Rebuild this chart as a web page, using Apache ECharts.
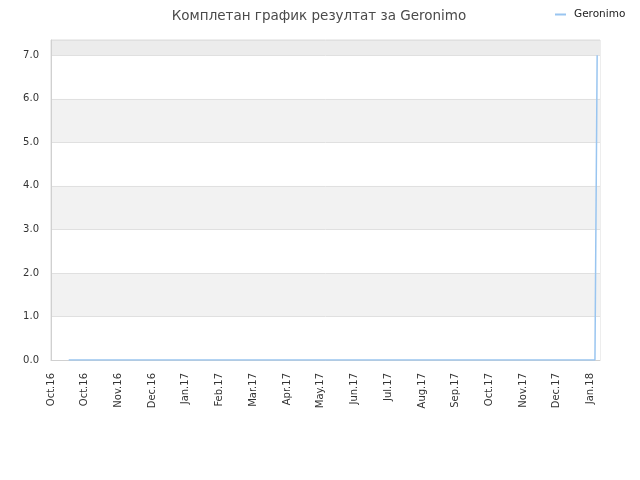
<!DOCTYPE html>
<html>
<head>
<meta charset="utf-8">
<script src="https://cdn.jsdelivr.net/npm/echarts@6/dist/echarts.min.js"></script>
<style>
  html, body { margin: 0; padding: 0; background: #fff; }
  #chart { width: 640px; height: 480px; }
</style>
</head>
<body>
<div id="chart"></div>
<script>
// axis starts 1 Oct 2016, one tick every ~month
var startDate = Date.UTC(2016, 9, 1);
var monthDays = 30.44;
var tickLabels = ['Oct.16', 'Oct.16', 'Nov.16', 'Dec.16', 'Jan.17', 'Feb.17', 'Mar.17', 'Apr.17',
    'May.17', 'Jun.17', 'Jul.17', 'Aug.17', 'Sep.17', 'Oct.17', 'Nov.17', 'Dec.17', 'Jan.18'];
var pointDates = ['2016-10-17', '2018-02-04', '2018-02-05', '2018-02-06'];
var pointValues = [0, 0, 3.5, 7];

function dayOffset(s) {
    var p = s.split('-');
    return (Date.UTC(+p[0], +p[1] - 1, +p[2]) - startDate) / 86400000;
}

var lineData = pointDates.map(function (d, i) {
    return [dayOffset(d), pointValues[i]];
});

var myChart = echarts.init(document.getElementById('chart'));

var option = {
    animation: false,
    textStyle: { fontFamily: 'DejaVu Sans' },
    title: {
        text: 'Комплетан график резултат за Geronimo',
        left: 314,
        textAlign: 'center',
        top: 4,
        textStyle: { fontSize: 13.5, fontWeight: 'normal', color: '#4a4a4a' }
    },
    legend: {
        left: 550,
        top: 4,
        icon: 'rect',
        itemWidth: 11,
        itemHeight: 2,
        itemGap: 6,
        textStyle: { fontSize: 10.5, color: '#222', padding: [0, 0, 0, 3] },
        data: ['Geronimo']
    },
    grid: {
        left: 51, right: 40, top: 40, bottom: 120,
        show: true, borderColor: '#dcdcdc', borderWidth: 1,
        containLabel: false
    },
    xAxis: {
        type: 'value',
        min: 0,
        max: 16.28 * monthDays,
        interval: monthDays,
        axisLine: { show: true, lineStyle: { color: '#d0d0d0' } },
        axisTick: { show: false },
        splitLine: { show: false },
        axisLabel: {
            rotate: 90,
            margin: 13,
            fontSize: 10,
            color: '#333',
            showMaxLabel: false,
            formatter: function (v) {
                return tickLabels[Math.round(v / monthDays)] || '';
            }
        }
    },
    yAxis: {
        type: 'value',
        min: 0,
        max: 7.35,
        interval: 1,
        axisLine: { show: true, lineStyle: { color: '#d0d0d0' } },
        axisTick: { show: false },
        splitLine: { show: true, lineStyle: { color: '#e0e0e0' } },
        splitArea: {
            show: true,
            areaStyle: { color: ['#ffffff', '#f2f2f2', '#ffffff', '#f2f2f2', '#ffffff', '#f2f2f2', '#ffffff', '#ececec'] }
        },
        axisLabel: {
            margin: 12,
            fontSize: 10,
            color: '#333',
            showMaxLabel: false,
            formatter: function (v) { return v.toFixed(1); }
        }
    },
    series: [
        {
            name: 'Geronimo',
            type: 'line',
            data: lineData,
            showSymbol: false,
            symbol: 'none',
            lineStyle: { color: '#99c5f0', width: 1.5 },
            itemStyle: { color: '#99c5f0' }
        }
    ]
};

myChart.setOption(option);
</script>
</body>
</html>
